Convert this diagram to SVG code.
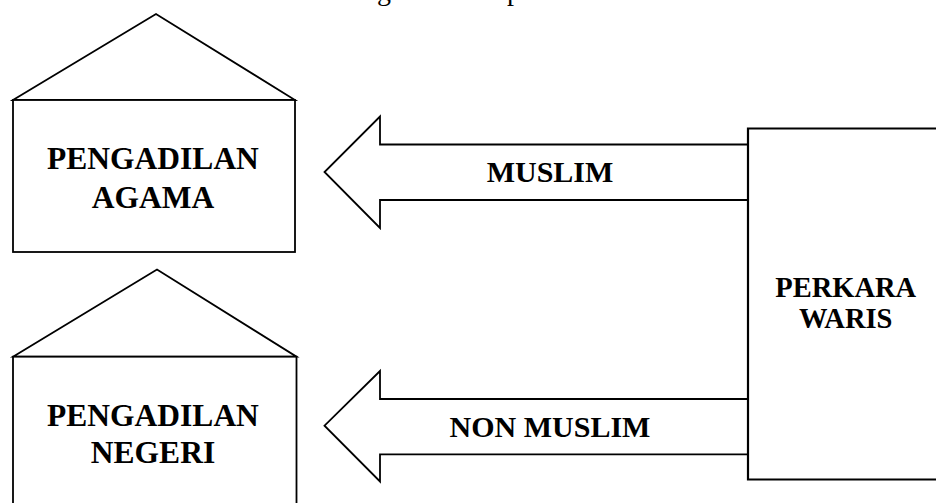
<svg xmlns="http://www.w3.org/2000/svg" width="936" height="503" viewBox="0 0 936 503">
<style>
.ln{fill:#fff;stroke:#000;stroke-width:1.8;stroke-linejoin:miter}
.lbl{font-family:"Liberation Serif","Times New Roman",serif;font-weight:bold;font-size:30px;fill:#000;text-anchor:middle}
.big{font-size:31.5px}
.sm{font-size:28.5px}
.cap{font-family:"Liberation Serif","Times New Roman",serif;font-size:28px;fill:#000}
</style>
<rect width="936" height="503" fill="#fff"/>
<text class="cap" x="377" y="0">g</text>
<text class="cap" x="507" y="0">p</text>
<g id="connectors">
<polygon class="ln" points="749,144.5 380,144.5 380,116.5 324.5,172 380,228 380,200 749,200"/>
<polygon class="ln" points="749,399 380,399 380,371 324.5,425.7 380,481.5 380,454.3 749,454.3"/>
<text class="lbl" x="550" y="181.7">MUSLIM</text>
<text class="lbl" x="550" y="436.7">NON MUSLIM</text>
</g>
<g id="pengadilan-agama">
<polygon class="ln" points="13,100 156,14 295,100"/>
<rect class="ln" x="13" y="100" width="282" height="152"/>
<text class="lbl big" x="153" y="169.3">PENGADILAN</text>
<text class="lbl big" x="153" y="208">AGAMA</text>
</g>
<g id="pengadilan-negeri">
<polygon class="ln" points="13,356.7 157,269.5 296.5,356.7"/>
<rect class="ln" x="13" y="356.7" width="283.5" height="160"/>
<text class="lbl big" x="153" y="425.7">PENGADILAN</text>
<text class="lbl big" x="153" y="463.3">NEGERI</text>
</g>
<g id="perkara-waris">
<path d="M940,128.5 H748 V479.5 H940" fill="#fff" stroke="#000" stroke-width="2.2"/>
<text class="lbl sm" x="845.7" y="296.7">PERKARA</text>
<text class="lbl sm" x="845.7" y="328.3">WARIS</text>
</g>
</svg>
